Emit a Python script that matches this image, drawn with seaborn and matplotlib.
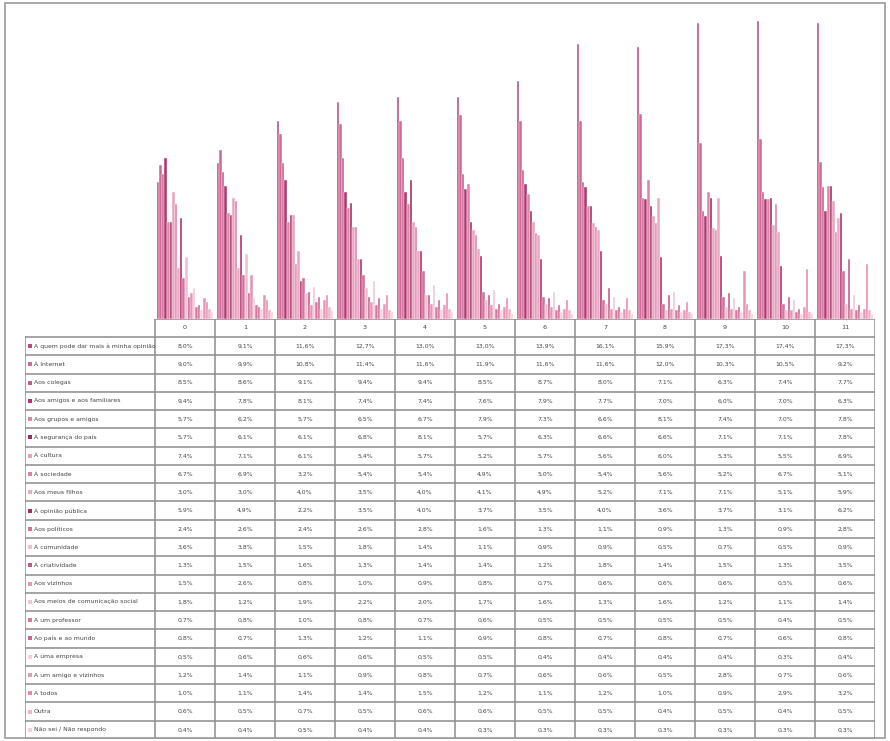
import pandas as pd
import numpy as np
import matplotlib
matplotlib.use('Agg')
import matplotlib.pyplot as plt
import seaborn as sns
from matplotlib.patches import Rectangle

# groups (columns of the data table)
groups = ['0', '1', '2', '3', '4', '5', '6', '7', '8', '9', '10', '11']

# answers (rows of the data table / series)
answers = [
    'A quem pode dar mais à minha opinião',
    'À Internet',
    'Aos colegas',
    'Aos amigos e aos familiares',
    'Aos grupos e amigos',
    'À segurança do país',
    'À cultura',
    'À sociedade',
    'Aos meus filhos',
    'À opinião pública',
    'Aos políticos',
    'À comunidade',
    'À criatividade',
    'Aos vizinhos',
    'Aos meios de comunicação social',
    'A um professor',
    'Ao país e ao mundo',
    'A uma empresa',
    'A um amigo e vizinhos',
    'A todos',
    'Outra',
    'Não sei / Não respondo',
]

# percentages per group, in the order of the answers
g0 = [8.0, 9.0, 8.5, 9.4, 5.7, 5.7, 7.4, 6.7, 3.0, 5.9, 2.4, 3.6, 1.3, 1.5, 1.8, 0.7, 0.8, 0.5, 1.2, 1.0, 0.6, 0.4]
g1 = [9.1, 9.9, 8.6, 7.8, 6.2, 6.1, 7.1, 6.9, 3.0, 4.9, 2.6, 3.8, 1.5, 2.6, 1.2, 0.8, 0.7, 0.6, 1.4, 1.1, 0.5, 0.4]
g2 = [11.6, 10.8, 9.1, 8.1, 5.7, 6.1, 6.1, 3.2, 4.0, 2.2, 2.4, 1.5, 1.6, 0.8, 1.9, 1.0, 1.3, 0.6, 1.1, 1.4, 0.7, 0.5]
g3 = [12.7, 11.4, 9.4, 7.4, 6.5, 6.8, 5.4, 5.4, 3.5, 3.5, 2.6, 1.8, 1.3, 1.0, 2.2, 0.8, 1.2, 0.6, 0.9, 1.4, 0.5, 0.4]
g4 = [13.0, 11.6, 9.4, 7.4, 6.7, 8.1, 5.7, 5.4, 4.0, 4.0, 2.8, 1.4, 1.4, 0.9, 2.0, 0.7, 1.1, 0.5, 0.8, 1.5, 0.6, 0.4]
g5 = [13.0, 11.9, 8.5, 7.6, 7.9, 5.7, 5.2, 4.9, 4.1, 3.7, 1.6, 1.1, 1.4, 0.8, 1.7, 0.6, 0.9, 0.5, 0.7, 1.2, 0.6, 0.3]
g6 = [13.9, 11.6, 8.7, 7.9, 7.3, 6.3, 5.7, 5.0, 4.9, 3.5, 1.3, 0.9, 1.2, 0.7, 1.6, 0.5, 0.8, 0.4, 0.6, 1.1, 0.5, 0.3]
g7 = [16.1, 11.6, 8.0, 7.7, 6.6, 6.6, 5.6, 5.4, 5.2, 4.0, 1.1, 0.9, 1.8, 0.6, 1.3, 0.5, 0.7, 0.4, 0.6, 1.2, 0.5, 0.3]
g8 = [15.9, 12.0, 7.1, 7.0, 8.1, 6.6, 6.0, 5.6, 7.1, 3.6, 0.9, 0.5, 1.4, 0.6, 1.6, 0.5, 0.8, 0.4, 0.5, 1.0, 0.4, 0.3]
g9 = [17.3, 10.3, 6.3, 6.0, 7.4, 7.1, 5.3, 5.2, 7.1, 3.7, 1.3, 0.7, 1.5, 0.6, 1.2, 0.5, 0.7, 0.4, 2.8, 0.9, 0.5, 0.3]
g10 = [17.4, 10.5, 7.4, 7.0, 7.0, 7.1, 5.5, 6.7, 5.1, 3.1, 0.9, 0.5, 1.3, 0.5, 1.1, 0.4, 0.6, 0.3, 0.7, 2.9, 0.4, 0.3]
g11 = [17.3, 9.2, 7.7, 6.3, 7.8, 7.8, 6.9, 5.1, 5.9, 6.2, 2.8, 0.9, 3.5, 0.6, 1.4, 0.5, 0.8, 0.4, 0.6, 3.2, 0.5, 0.3]

values = [g0, g1, g2, g3, g4, g5, g6, g7, g8, g9, g10, g11]

# pink shades for the series
colors = ['#c04a80', '#d26a97', '#c85a8b', '#b5336f', '#dc86aa', '#9e2a5f',
          '#e9a3c0', '#e07fa8', '#eaa9c4', '#b42868', '#d3709b', '#f0bfd3',
          '#c7578a', '#e694b5', '#f2c6d8', '#d9779f', '#cf6594', '#f5d0df',
          '#e29ab8', '#ec86b0', '#f0b5cc', '#f3cfdd']

rows = []
for g, vals in zip(groups, values):
    for a, v in zip(answers, vals):
        rows.append({'grupo': g, 'resposta': a, 'pct': v})
df = pd.DataFrame(rows)

sns.set_theme(style='white')
plt.rcParams['font.family'] = ['DejaVu Sans']

W, H = 890, 741
fig = plt.figure(figsize=(W / 100, H / 100), dpi=100)

# frame around the whole picture
fig.patches.append(Rectangle((5 / W, 3 / H), 880 / W, 735 / H, transform=fig.transFigure,
                             fill=False, edgecolor='#9a9a9a', linewidth=1.2))

# bar area
x0, x1 = 155, 875
ytop, ybase = 18, 319
ax = fig.add_axes([x0 / W, 1 - ybase / H, (x1 - x0) / W, (ybase - ytop) / H])
sns.barplot(data=df, x='grupo', y='pct', hue='resposta', order=groups, hue_order=answers,
            palette=colors, saturation=1, width=0.94, legend=False, errorbar=None,
            linewidth=0.3, edgecolor='white', ax=ax)
ax.set_ylim(0, 17.6)
ax.set_xlim(-0.5, len(groups) - 0.5)
ax.axis('off')

# data table
ttop, tbot, tleft = 319, 739, 25
tab = fig.add_axes([tleft / W, 1 - tbot / H, (x1 - tleft) / W, (tbot - ttop) / H])
tab.set_xlim(tleft, x1)
tab.set_ylim(tbot, ttop)
tab.axis('off')

head_h = 18
row_h = (tbot - ttop - head_h) / len(answers)
col_w = (x1 - x0) / len(groups)
lc = '#8c8c8c'
lw = 1.1
tc = '#444444'

# header row
tab.plot([x0, x1], [ttop, ttop], color=lc, lw=lw)
for j, g in enumerate(groups):
    cx = x0 + (j + 0.5) * col_w
    tab.text(cx, ttop + head_h / 2, g, ha='center', va='center', fontsize=4.6, color=tc)

# body rows
for i, a in enumerate(answers):
    ry = ttop + head_h + i * row_h
    tab.plot([tleft, x1], [ry, ry], color=lc, lw=lw)
    cy = ry + row_h / 2
    tab.add_patch(Rectangle((tleft + 3, cy - 2), 4, 4, color=colors[i], lw=0))
    tab.text(tleft + 9, cy, a, ha='left', va='center', fontsize=4.4, color=tc)
    for j in range(len(groups)):
        cx = x0 + (j + 0.5) * col_w
        txt = f"{values[j][i]:.1f}%".replace('.', ',')
        tab.text(cx, cy, txt, ha='center', va='center', fontsize=4.4, color=tc)
tab.plot([tleft, x1], [tbot, tbot], color=lc, lw=lw)

# vertical lines
tab.plot([tleft, tleft], [ttop + head_h, tbot], color=lc, lw=lw)
for j in range(len(groups) + 1):
    xx = x0 + j * col_w
    tab.plot([xx, xx], [ttop, tbot], color=lc, lw=lw)

fig.savefig('out.png', dpi=100)
